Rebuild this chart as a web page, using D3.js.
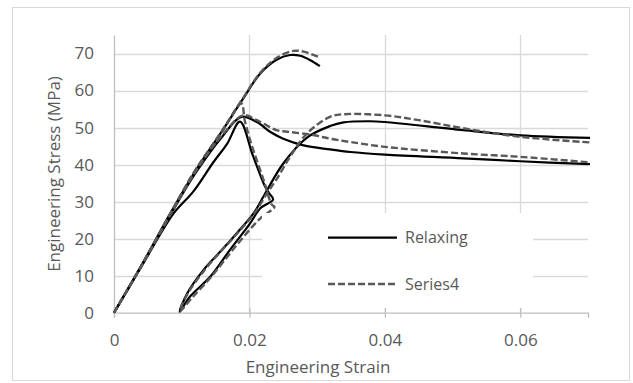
<!doctype html>
<html lang="en">
<head>
<meta charset="utf-8" />
  <title>Engineering stress / strain</title>
  <script src="https://d3js.org/d3.v7.min.js"></script>
  <style type="text/css">
    html, body { margin: 0; padding: 0; background: #fff; }
    #graphe { width: 633px; height: 383px; }
    text { font-family: "Open Sans", Lato, sans-serif; fill: #595959; }
  </style>
  <script>

// courbes "Relaxing" (trait plein) : [deformation, contrainte MPa]
var relaxA = [[0,0],[0.004,12.3],[0.0088,26.8],[0.0117,32.7],[0.0147,40.7],[0.0167,45.6],[0.0186,51.6],
  [0.0205,42.5],[0.0222,34.5],[0.0229,32.3],[0.0235,30.6],[0.0216,28.2],[0.0201,24.1],[0.0171,16.9],
  [0.0142,9.7],[0.0112,4.3],[0.0097,0.3],[0.0108,5.2],[0.0132,11.5],[0.0157,16.5],[0.0181,21.4],
  [0.0206,26.8],[0.0222,31.8],[0.025,40.3],[0.0285,47.3],[0.0319,50.4],[0.0339,51.4],[0.0378,51.7],
  [0.04,51.5],[0.0516,49.3],[0.06,47.9],[0.0703,47.2]];
var relaxB = [[0,0],[0.004,12.6],[0.0083,26.8],[0.012,38.2],[0.016,49.2],[0.019,57.6],[0.0216,64.6],
  [0.024,68.3],[0.026,69.6],[0.0275,69.4],[0.029,68.2],[0.0304,66.6]];
var relaxC = [[0,0],[0.004,12.5],[0.0085,27],[0.012,37.6],[0.016,47.6],[0.0188,52.9],[0.0211,51.5],
  [0.0231,48.8],[0.025,47],[0.028,45.2],[0.0319,44.1],[0.0349,43.4],[0.04,42.7],[0.0516,41.7],
  [0.06,40.9],[0.0703,40.1]];

// courbes "Series4" (pointilles)
var series4A = [[0,0],[0.004,12.5],[0.0085,27.4],[0.012,38.5],[0.016,49],[0.0188,56.5],[0.0193,52],
  [0.0201,46.6],[0.0221,35.8],[0.0233,29.2],[0.0237,28.6],[0.0215,25.3],[0.018,18],[0.0145,10],
  [0.0115,4],[0.0097,0.3],[0.011,5.5],[0.0135,11.8],[0.016,17],[0.0185,22],[0.021,27.5],[0.0225,32],
  [0.024,36],[0.026,42.1],[0.0285,48.4],[0.0319,52.9],[0.0339,53.6],[0.04,53.3],[0.045,52],
  [0.0516,49.8],[0.06,47.5],[0.0703,46]];
var series4B = [[0,0],[0.004,12.5],[0.0085,27],[0.012,38],[0.016,48],[0.0191,53.3],[0.0211,52],
  [0.024,49.3],[0.026,48.8],[0.0294,48],[0.0319,47],[0.0349,46.1],[0.04,44.8],[0.0516,43],
  [0.06,42.1],[0.0703,40.6]];
var series4C = [[0,0],[0.004,12.6],[0.0085,27.3],[0.012,38.3],[0.016,49.3],[0.019,57.8],[0.0216,64.8],
  [0.024,68.8],[0.0265,70.7],[0.028,70.5],[0.0302,69.1]];

var ticksX = [0, 0.02, 0.04, 0.06];
var ticksY = [0, 10, 20, 30, 40, 50, 60, 70];
var legende = ["Relaxing", "Series4"];

window.onload = function() {
  var svg = d3.select("#graphe").append("svg").attr("width", 633).attr("height", 383);

  // cadre du graphique
  svg.append("rect").attr("x", 12.5).attr("y", 7.5).attr("width", 617).attr("height", 373)
    .attr("fill", "#fff").attr("stroke", "#d9d9d9");

  var x = d3.scaleLinear().domain([0, 0.07]).range([114, 588]);
  var y = d3.scaleLinear().domain([0, 75]).range([312.7, 35]);

  // grille
  svg.append("g").selectAll("line").data(ticksY.slice(1)).join("line")
    .attr("x1", x(0)).attr("x2", x(0.07)).attr("y1", d => Math.round(y(d)) + 0.5).attr("y2", d => Math.round(y(d)) + 0.5)
    .attr("stroke", "#d9d9d9").attr("stroke-width", 1.3);
  svg.append("g").selectAll("line").data(ticksX.slice(1)).join("line")
    .attr("x1", d => Math.round(x(d)) + 0.5).attr("x2", d => Math.round(x(d)) + 0.5).attr("y1", y(75)).attr("y2", y(0))
    .attr("stroke", "#d9d9d9").attr("stroke-width", 1.3);

  // axes
  var axeX = svg.append("g").attr("transform", "translate(0," + y(0) + ")")
    .call(d3.axisBottom(x).tickValues(ticksX).tickSize(5).tickFormat(d3.format("")));
  axeX.select(".domain").attr("stroke", "#bfbfbf").attr("stroke-width", 1.3);
  axeX.selectAll(".tick line").attr("stroke", "#bfbfbf").attr("stroke-width", 1.3).attr("y1", -5);
  axeX.selectAll(".tick text").attr("y", 21).attr("font-size", 17).attr("font-family", "Open Sans").attr("fill", "#595959");

  var axeY = svg.append("g").attr("transform", "translate(" + x(0) + ",0)")
    .call(d3.axisLeft(y).tickValues(ticksY).tickSize(0).tickPadding(20));
  axeY.select(".domain").attr("stroke", "#bfbfbf").attr("stroke-width", 1.3);
  axeY.selectAll(".tick text").attr("font-size", 17).attr("font-family", "Open Sans").attr("fill", "#595959");

  svg.append("text").attr("x", 318).attr("y", 373).attr("text-anchor", "middle")
    .attr("font-size", 17).text("Engineering Strain");
  svg.append("text").attr("transform", "translate(60,174) rotate(-90)").attr("text-anchor", "middle")
    .attr("font-size", 17).text("Engineering Stress (MPa)");

  // courbes
  var ligne = d3.line().x(d => x(d[0])).y(d => y(d[1])).curve(d3.curveCatmullRom.alpha(0.5));
  [relaxA, relaxB, relaxC].forEach(function(c) {
    svg.append("path").attr("d", ligne(c)).attr("fill", "none").attr("stroke", "#000")
      .attr("stroke-width", 2.2).attr("stroke-linejoin", "round");
  });
  [series4A, series4B, series4C].forEach(function(c) {
    svg.append("path").attr("d", ligne(c)).attr("fill", "none").attr("stroke", "#595959")
      .attr("stroke-width", 2.4).attr("stroke-dasharray", "7,3");
  });

  // legende (fond blanc qui cache la grille)
  svg.append("rect").attr("x", 262).attr("y", 213).attr("width", 271).attr("height", 95).attr("fill", "#fff");
  var leg = svg.append("g").selectAll("g").data(legende).join("g")
    .attr("transform", (d, i) => "translate(328," + (237.7 + i * 46.3) + ")");
  leg.append("line").attr("x1", 0).attr("x2", 69)
    .attr("stroke", (d, i) => i === 0 ? "#000" : "#595959").attr("stroke-width", (d, i) => i === 0 ? 2.2 : 2.4)
    .attr("stroke-dasharray", (d, i) => i === 0 ? null : "7,3");
  leg.append("text").attr("x", 77).attr("dy", "0.35em").attr("font-size", 16).text(d => d);
};
  </script>
</head>
<body>
  <div id="graphe"></div>
</body>
</html>
